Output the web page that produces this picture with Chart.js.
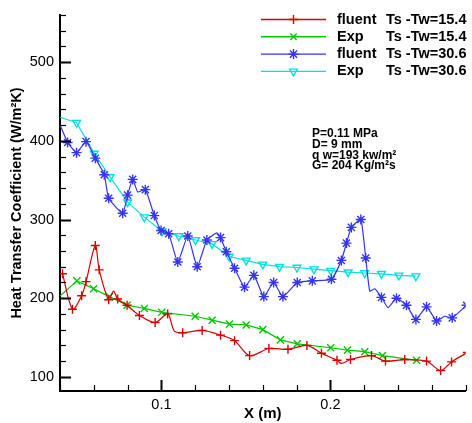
<!DOCTYPE html>
<html>
<head>
<meta charset="utf-8">
<script src="https://cdn.jsdelivr.net/npm/chart.js@4"></script>
<style>
  body { margin: 0; background: #fff; }
  canvas { display: block; }
</style>
</head>
<body>
<canvas id="heatChart" width="472" height="423"></canvas>
<script>
// fluent, Ts-Tw = 15.4
var fluent15X = [0.0415, 0.0474, 0.0528, 0.0554, 0.0609, 0.0632, 0.0688, 0.0717, 0.0741, 0.0797, 0.0870, 0.0963, 0.1037, 0.1077, 0.1126, 0.1241, 0.1350, 0.1433, 0.1522, 0.1636, 0.1749, 0.1861, 0.1947, 0.2039, 0.2065, 0.2119, 0.2243, 0.2326, 0.2440, 0.2569, 0.2652, 0.2717, 0.2810]
var fluent15Y = [231, 186, 203, 221, 267, 236, 198, 209, 199, 191, 178, 169, 180, 158, 156, 159, 153, 146, 127, 136, 135, 140, 130, 121, 117, 122, 127, 120, 122, 120, 108, 119, 131]
var fluent15NoMark = [7, 13, 24]

// Exp, Ts-Tw = 15.4
var exp15X = [0.0401, 0.0500, 0.0599, 0.0692, 0.0797, 0.0899, 0.1002, 0.1200, 0.1300, 0.1403, 0.1502, 0.1600, 0.1704, 0.1804, 0.2002, 0.2101, 0.2203, 0.2308, 0.2510]
var exp15Y = [203, 222, 212, 202, 191, 187, 182, 177, 172, 167, 166, 160, 147, 142, 137, 134, 132, 127, 121]
var exp15NoMark = [0]

// fluent, Ts-Tw = 30.6
var fluent30X = [0.0403, 0.0445, 0.0498, 0.0554, 0.0609, 0.0662, 0.0688, 0.0771, 0.0800, 0.0830, 0.0860, 0.0905, 0.0958, 0.0998, 0.1043, 0.1097, 0.1156, 0.1212, 0.1269, 0.1328, 0.1350, 0.1384, 0.1433, 0.1492, 0.1547, 0.1606, 0.1664, 0.1719, 0.1804, 0.1893, 0.2006, 0.2065, 0.2095, 0.2124, 0.2180, 0.2209, 0.2233, 0.2263, 0.2302, 0.2341, 0.2391, 0.2450, 0.2506, 0.2569, 0.2628, 0.2677, 0.2721, 0.2806]
var fluent30Y = [419, 398, 385, 399, 378, 357, 327, 308, 331, 351, 335, 338, 305, 286, 282, 246, 279, 240, 274, 283, 277, 259, 238, 214, 229, 202, 220, 202, 220, 222, 224, 248, 270, 290, 300, 251, 209, 212, 201, 188, 200, 191, 173, 189, 171, 177, 175, 191]
var fluent30NoMark = [0, 10, 19, 36, 37, 39, 45]

// Exp, Ts-Tw = 30.6
var exp30X = [0.0401, 0.0498, 0.0603, 0.0696, 0.0800, 0.0899, 0.1004, 0.1103, 0.1202, 0.1300, 0.1401, 0.1502, 0.1600, 0.1699, 0.1802, 0.1903, 0.2002, 0.2105, 0.2203, 0.2302, 0.2405, 0.2506]
var exp30Y = [430, 423, 384, 354, 322, 303, 285, 279, 274, 269, 253, 248, 243, 240, 239, 237, 235, 233, 232, 231, 229, 228]
var exp30NoMark = [0]

var xTicks = [0.1, 0.2]
var yTicks = [100, 200, 300, 400, 500]
var xMinorStep = 0.02
var yMinorStep = 20

var seriesNames = ['fluent', 'Exp', 'fluent', 'Exp']
var seriesConds = ['Ts -Tw=15.4', 'Ts -Tw=15.4', 'Ts -Tw=30.6', 'Ts -Tw=30.6']
var noteLines = ['P=0.11 MPa', 'D= 9 mm', 'q w=193 kw/m\u00b2', 'G= 204 Kg/m\u00b2s']

Chart.defaults.font.family = 'Arial, "Liberation Sans", sans-serif'
Chart.defaults.color = '#000'

function pts(xs, ys) {
    return xs.map(function (x, i) { return {x: x, y: ys[i]} })
}

function makeSet(xs, ys, noMark, color, style, radius, tension, rot) {
    return {
        data: pts(xs, ys),
        showLine: true,
        borderColor: color,
        backgroundColor: 'rgba(0,0,0,0)',
        borderWidth: 1.2,
        tension: tension,
        pointStyle: style,
        pointRotation: rot || 0,
        pointBorderColor: color,
        pointBorderWidth: 1.4,
        pointRadius: function (c) { return noMark.indexOf(c.dataIndex) >= 0 ? 0 : radius },
        pointHoverRadius: 0
    }
}

var sets = [
    makeSet(fluent15X, fluent15Y, fluent15NoMark, '#d60000', 'cross', 4.5, 0.3),
    makeSet(exp15X, exp15Y, exp15NoMark, '#00c800', 'crossRot', 5, 0),
    makeSet(fluent30X, fluent30Y, fluent30NoMark, '#3434f2', 'star', 5, 0.15),
    makeSet(exp30X, exp30Y, exp30NoMark, '#00e0e0', 'triangle', 4.5, 0, 180)
]

var decorPlugin = {
    id: 'decor',
    afterDraw: function (chart) {
        var ctx = chart.ctx
        var xs = chart.scales.x, ys = chart.scales.y
        var a = chart.chartArea
        ctx.save()
        ctx.strokeStyle = '#000'
        // inward tick marks
        for (var v = xs.min; v <= xs.max + 1e-9; v += xMinorStep) {
            var major = xTicks.some(function (t) { return Math.abs(t - v) < 1e-6 })
            var px = Math.round(xs.getPixelForValue(v)) + 0.5
            ctx.lineWidth = major ? 2 : 1.2
            ctx.beginPath()
            ctx.moveTo(px, a.bottom)
            ctx.lineTo(px, a.bottom - (major ? 11 : 6))
            ctx.stroke()
        }
        for (var w = Math.ceil(ys.min / yMinorStep) * yMinorStep; w <= ys.max; w += yMinorStep) {
            var majorY = yTicks.indexOf(w) >= 0
            var py = Math.round(ys.getPixelForValue(w)) + 0.5
            ctx.lineWidth = majorY ? 2 : 1.2
            ctx.beginPath()
            ctx.moveTo(a.left, py)
            ctx.lineTo(a.left + (majorY ? 11 : 6), py)
            ctx.stroke()
        }
        // legend
        ctx.font = 'bold 14.5px Arial, "Liberation Sans", sans-serif'
        ctx.textBaseline = 'middle'
        ctx.textAlign = 'left'
        for (var i = 0; i < sets.length; i++) {
            var ds = sets[i]
            var ly = 19.5 + i * 17.3
            ctx.strokeStyle = ds.borderColor
            ctx.lineWidth = 1.4
            ctx.beginPath()
            ctx.moveTo(261, ly)
            ctx.lineTo(326, ly)
            ctx.stroke()
            ctx.fillStyle = 'rgba(0,0,0,0)'
            Chart.helpers.drawPoint(ctx, {pointStyle: ds.pointStyle, rotation: ds.pointRotation, radius: ds.pointStyle === 'star' ? 5 : 4.5, borderWidth: 1.4}, 293.5, ly)
            ctx.fillStyle = '#000'
            ctx.fillText(seriesNames[i], 337, ly)
            ctx.fillText(seriesConds[i], 386, ly)
        }
        // conditions
        ctx.font = 'bold 12px Arial, "Liberation Sans", sans-serif'
        noteLines.forEach(function (t, k) {
            ctx.fillText(t, 312, 134 + k * 10.7)
        })
        ctx.restore()
    }
}

var ctx = document.getElementById('heatChart').getContext('2d')
var heatChart = new Chart(ctx, {
    type: 'scatter',
    data: { datasets: sets },
    options: {
        responsive: false,
        animation: false,
        layout: { padding: { left: 0, right: 5, top: 15, bottom: 0 } },
        plugins: { legend: { display: false }, tooltip: { enabled: false } },
        scales: {
            x: {
                type: 'linear',
                min: 0.04,
                max: 0.28,
                afterBuildTicks: function (s) { s.ticks = xTicks.map(function (v) { return {value: v} }) },
                afterFit: function (s) { s.height = 32 },
                grid: { display: false, drawTicks: false },
                border: { display: true, color: '#000', width: 2 },
                ticks: { font: { size: 14.5 }, padding: 5, maxRotation: 0, autoSkip: false,
                    callback: function (v) { return v.toFixed(1) } },
                title: { display: true, text: 'X (m)', font: { size: 15, weight: 'bold' }, padding: 0 }
            },
            y: {
                type: 'linear',
                min: 82,
                max: 560,
                afterBuildTicks: function (s) { s.ticks = yTicks.map(function (v) { return {value: v} }) },
                afterFit: function (s) { s.width = 60 },
                grid: { display: false, drawTicks: false },
                border: { display: true, color: '#000', width: 2 },
                ticks: { font: { size: 14.5 }, padding: 6, autoSkip: false },
                title: { display: true, text: 'Heat Transfer Coefficient (W/m\u00b2K)',
                    font: { size: 14.5, weight: 'bold' }, padding: { top: 8, bottom: 8 } }
            }
        }
    },
    plugins: [decorPlugin]
})
</script>
</body>
</html>
